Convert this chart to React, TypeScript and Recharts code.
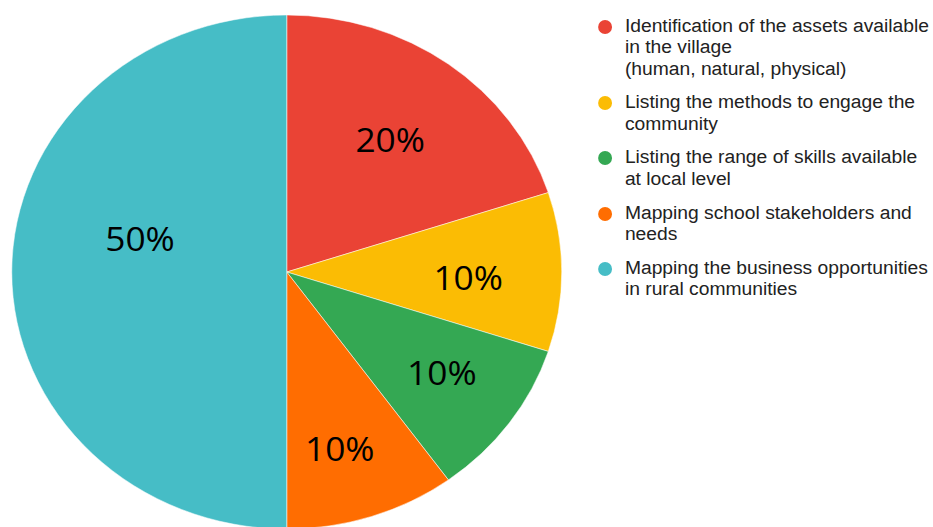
import React from "react";
import { PieChart, Pie, Cell, Legend } from "recharts";

const categories = [
  "Identification of the assets available\nin the village\n(human, natural, physical)",
  "Listing the methods to engage the\ncommunity",
  "Listing the range of skills available\nat local level",
  "Mapping school stakeholders and\nneeds",
  "Mapping the business opportunities\nin rural communities",
];
const values = [20, 10, 10, 10, 50];
const colors = ["#EA4335", "#FBBC04", "#34A853", "#FF6D01", "#46BDC6"];
const labelRadiusFactor = [0.64, 0.66, 0.685, 0.712, 0.55];
const labelAngleShift = [0, -1.7, 1.4, -2.3, -14];

const data = categories.map((name, i) => ({ name, value: values[i] }));
const total = values.reduce((a, b) => a + b, 0);

const RAD = Math.PI / 180;

const renderLabel = (props: any) => {
  const { cx, cy, midAngle, outerRadius, index, value } = props;
  const r = outerRadius * labelRadiusFactor[index];
  const a = midAngle + labelAngleShift[index];
  const x = cx + r * Math.cos(-a * RAD);
  const y = cy + r * Math.sin(-a * RAD);
  return (
    <text
      x={x}
      y={y}
      textAnchor="middle"
      dominantBaseline="central"
      fill="#000000"
      fontSize={33}
      fontFamily="'Open Sans', 'Noto Sans', sans-serif"
    >
      {`${Math.round((value / total) * 100)}%`}
    </text>
  );
};

const renderLegend = (props: any) => {
  const { payload } = props;
  return (
    <div style={{ fontFamily: "'Liberation Sans', Arial, sans-serif" }}>
      {payload.map((entry: any, i: number) => (
        <div
          key={i}
          style={{ display: "flex", alignItems: "flex-start", marginBottom: 12 }}
        >
          <div
            style={{
              width: 13,
              height: 14,
              borderRadius: "50%",
              background: entry.color,
              marginTop: 4,
              marginRight: 12,
              flexShrink: 0,
            }}
          />
          <div
            style={{
              whiteSpace: "pre-line",
              fontSize: 18,
              lineHeight: "21.6px",
              color: "#222222",
              textAlign: "left",
            }}
          >
            {entry.value}
          </div>
        </div>
      ))}
    </div>
  );
};

export default function App() {
  return (
    <div
      style={{
        position: "absolute",
        left: 0,
        top: 0,
        width: 933,
        height: 527,
        overflow: "hidden",
        background: "#ffffff",
      }}
    >
      <div style={{ transform: "scaleX(1.07)", transformOrigin: "0 0", width: 872, height: 527 }}>
        <PieChart width={872} height={527} margin={{ top: 0, right: 0, bottom: 0, left: 0 }}>
          <Pie
            data={data}
            dataKey="value"
            nameKey="name"
            cx={268}
            cy={272}
            outerRadius={257}
            startAngle={90}
            endAngle={-270}
            stroke="#ffffff"
            strokeWidth={0.5}
            label={renderLabel}
            labelLine={false}
            isAnimationActive={false}
          >
            {data.map((_, i) => (
              <Cell key={i} fill={colors[i]} />
            ))}
          </Pie>
          <Legend
            layout="vertical"
            align="right"
            verticalAlign="top"
            content={renderLegend}
            wrapperStyle={{ position: "absolute", left: 559, top: 15.5, width: 320 }}
          />
        </PieChart>
      </div>
    </div>
  );
}
